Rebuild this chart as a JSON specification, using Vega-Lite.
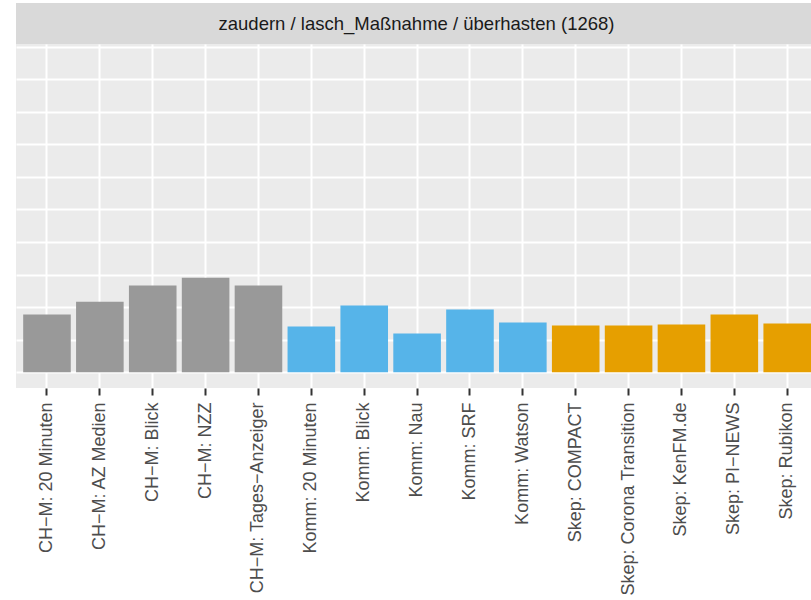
{
  "$schema": "https://vega.github.io/schema/vega-lite/v6.json",
  "padding": {"left": 16, "top": 3, "right": 0, "bottom": 0},
  "spacing": 0,
  "config": {
    "font": "Liberation Sans",
    "view": {"stroke": null},
    "concat": {"spacing": 0}
  },
  "vconcat": [
    {
      "width": 795,
      "height": 41,
      "view": {"fill": "#D9D9D9", "stroke": null},
      "data": {"values": [{"label": "zaudern / lasch_Maßnahme / überhasten (1268)"}]},
      "mark": {"type": "text", "fontSize": 18.5, "color": "#1A1A1A", "baseline": "middle", "align": "center", "dx": 3},
      "encoding": {"text": {"field": "label", "type": "nominal"}}
    },
    {
      "width": 795,
      "height": 344,
      "view": {"fill": "#EBEBEB", "stroke": null},
      "data": {
        "values": [
          {"source": "CH−M: 20 Minuten", "group": "CH-M", "value": 0.0888},
          {"source": "CH−M: AZ Medien", "group": "CH-M", "value": 0.1082},
          {"source": "CH−M: Blick", "group": "CH-M", "value": 0.1332},
          {"source": "CH−M: NZZ", "group": "CH-M", "value": 0.1454},
          {"source": "CH−M: Tages−Anzeiger", "group": "CH-M", "value": 0.1332},
          {"source": "Komm: 20 Minuten", "group": "Komm", "value": 0.0704},
          {"source": "Komm: Blick", "group": "Komm", "value": 0.1026},
          {"source": "Komm: Nau", "group": "Komm", "value": 0.0597},
          {"source": "Komm: SRF", "group": "Komm", "value": 0.0964},
          {"source": "Komm: Watson", "group": "Komm", "value": 0.0765},
          {"source": "Skep: COMPACT", "group": "Skep", "value": 0.0720},
          {"source": "Skep: Corona Transition", "group": "Skep", "value": 0.0720},
          {"source": "Skep: KenFM.de", "group": "Skep", "value": 0.0735},
          {"source": "Skep: PI−NEWS", "group": "Skep", "value": 0.0888},
          {"source": "Skep: Rubikon", "group": "Skep", "value": 0.0750}
        ]
      },
      "mark": {"type": "bar"},
      "encoding": {
        "x": {
          "field": "source",
          "type": "nominal",
          "sort": null,
          "scale": {"paddingInner": 0.1, "paddingOuter": 0.068, "align": 1},
          "axis": {
            "title": null,
            "labelAngle": 270,
            "labelFontSize": 18,
            "labelColor": "#4D4D4D",
            "labelPadding": 7,
            "ticks": true,
            "tickSize": 7,
            "tickWidth": 2,
            "tickColor": "#333333",
            "domain": false,
            "grid": true,
            "gridColor": "#FFFFFF",
            "gridWidth": 2,
            "labelLimit": 400
          }
        },
        "y": {
          "field": "value",
          "type": "quantitative",
          "scale": {"domain": [-0.024, 0.504], "nice": false, "zero": false},
          "axis": {
            "title": null,
            "labels": false,
            "ticks": false,
            "domain": false,
            "grid": true,
            "gridColor": "#FFFFFF",
            "gridWidth": 2,
            "values": [0, 0.05, 0.1, 0.15, 0.2, 0.25, 0.3, 0.35, 0.4, 0.45, 0.5],
            "minExtent": 0,
            "maxExtent": 0
          }
        },
        "color": {
          "field": "group",
          "type": "nominal",
          "scale": {"domain": ["CH-M", "Komm", "Skep"], "range": ["#999999", "#56B4E9", "#E69F00"]},
          "legend": null
        }
      }
    }
  ]
}
